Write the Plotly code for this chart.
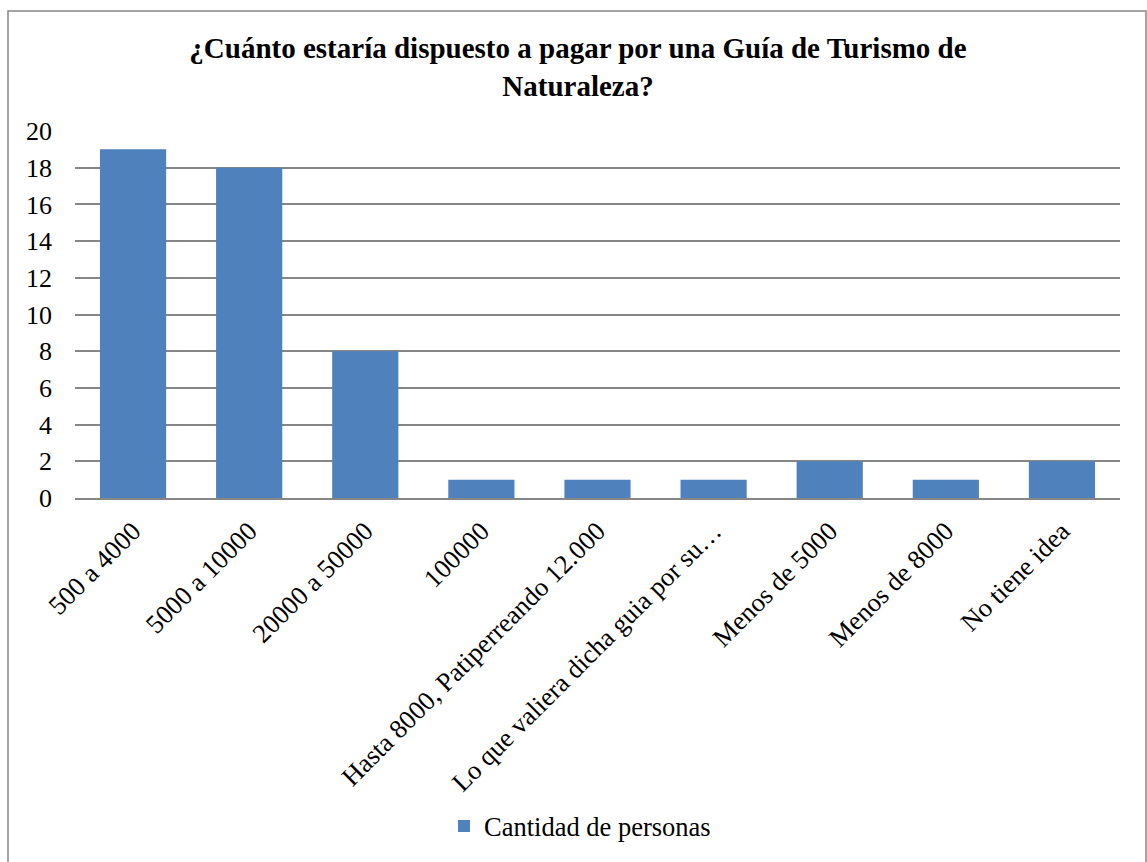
import plotly.graph_objects as go

categories = ["500 a 4000", "5000 a 10000", "20000 a 50000", "100000",
              "Hasta 8000, Patiperreando 12.000", "Lo que valiera dicha guia por su…",
              "Menos de 5000", "Menos de 8000", "No tiene idea"]
values = [19, 18, 8, 1, 1, 1, 2, 1, 2]
series_name = "Cantidad de personas"
y_ticks = [0, 2, 4, 6, 8, 10, 12, 14, 16, 18, 20]

W, H = 1147, 862
L, R, T, B = 75, 27, 131, 361
pw, ph = W - L - R, H - T - B

def px(x):
    return (x - L) / pw

def py(y):
    return (H - B - y) / ph

FONT = "Liberation Serif"

fig = go.Figure()
fig.add_trace(go.Bar(x=categories, y=values, name=series_name,
                     marker=dict(color="#4F81BD", line=dict(width=0))))

fig.update_layout(
    width=W, height=H,
    margin=dict(l=L, r=R, t=T, b=B),
    paper_bgcolor="white", plot_bgcolor="white",
    font=dict(family=FONT, size=26, color="black"),
    bargap=0.43,
    showlegend=True,
    legend=dict(orientation="h", x=px(580), xanchor="center", y=py(832), yanchor="middle",
                font=dict(family=FONT, size=26.5), itemwidth=30),
    title=dict(text="<b>¿Cuánto estaría dispuesto a pagar por una Guía de Turismo de<br>Naturaleza?</b>",
               x=px(578), xref="paper", xanchor="center", y=1 - 58 / H, yanchor="top",
               font=dict(family=FONT, size=29, color="black")),
    xaxis=dict(tickangle=-45, showgrid=False, showline=True, linecolor="#868686", linewidth=2,
               ticks="", tickfont=dict(family=FONT, size=26.5), ticklabelstandoff=5),
    yaxis=dict(range=[0, 20], tickvals=y_ticks, showgrid=True, gridcolor="#868686", gridwidth=2,
               zeroline=False, showline=False, ticks="", ticklabelstandoff=22,
               tickfont=dict(family=FONT, size=26)),
    shapes=[dict(type="rect", xref="paper", yref="paper",
                 x0=px(8), x1=px(1146), y0=py(880), y1=py(10),
                 line=dict(color="#868686", width=1.5), layer="below")],
)

fig.write_html("out.html", config={"displayModeBar": False},
               post_script="document.body.style.margin='0';")
